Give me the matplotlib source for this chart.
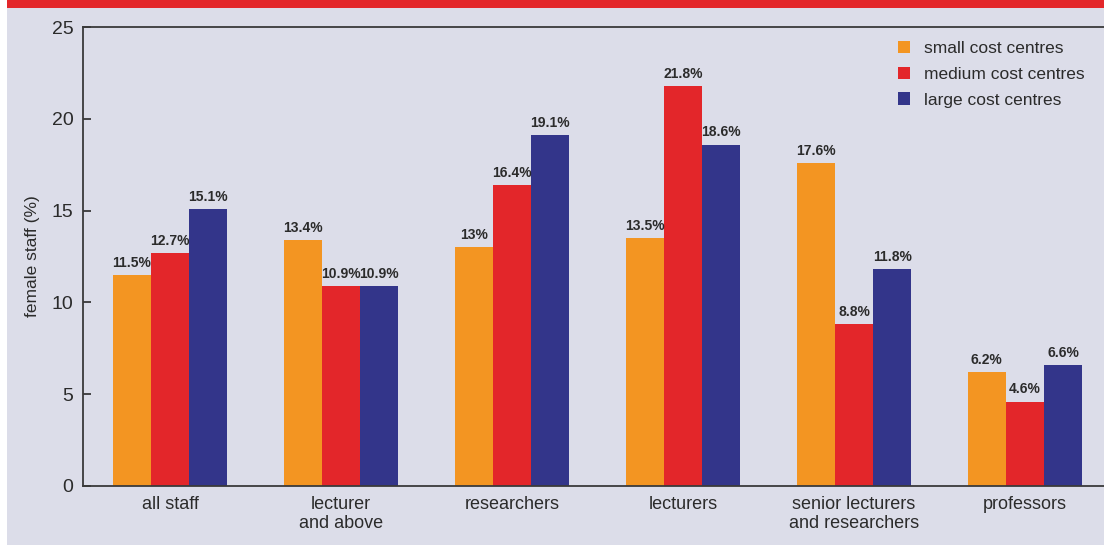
import numpy as np
import matplotlib.pyplot as plt
from matplotlib.patches import Rectangle

plt.rcParams['font.family'] = ['Liberation Sans', 'DejaVu Sans']

categories = ["all staff", "lecturer\nand above", "researchers", "lecturers",
              "senior lecturers\nand researchers", "professors"]
small = [11.5, 13.4, 13, 13.5, 17.6, 6.2]
medium = [12.7, 10.9, 16.4, 21.8, 8.8, 4.6]
large = [15.1, 10.9, 19.1, 18.6, 11.8, 6.6]
series_names = ["small cost centres", "medium cost centres", "large cost centres"]

bg = "#dcdde9"
colors = ["#f39522", "#e3262a", "#33358a"]
dark = "#2b2b2b"

W, H = 1104, 545
fig = plt.figure(figsize=(W / 100, H / 100), dpi=100, facecolor="white")

# background panel and red strip on top
fig.patches.append(Rectangle((7 / W, 0), 1 - 7 / W, 1 - 8 / H, transform=fig.transFigure,
                             facecolor=bg, edgecolor="none", zorder=-10))
fig.patches.append(Rectangle((7 / W, 1 - 8 / H), 1 - 7 / W, 8 / H, transform=fig.transFigure,
                             facecolor="#e3262a", edgecolor="none", zorder=-10))

ax = fig.add_axes([83 / W, 59 / H, (W - 83) / W, 459 / H])
ax.patch.set_alpha(0)

x = np.arange(len(categories))
w = 0.224
handles = []
for i, (vals, c, name) in enumerate(zip([small, medium, large], colors, series_names)):
    bars = ax.bar(x + (i - 1) * w, vals, width=w, color=c, label=name, zorder=2)
    handles.append(bars)
    for xi, v in zip(x + (i - 1) * w, vals):
        ax.text(xi, v + 0.28, f"{v:g}%", ha="center", va="bottom",
                fontsize=10, fontweight="bold", color=dark)

ax.set_xlim(-0.509, 5.462)
ax.set_ylim(0, 25)
ax.set_yticks([0, 5, 10, 15, 20, 25])
ax.set_xticks(x)
ax.set_xticklabels(categories, fontsize=13, color=dark, linespacing=1.2)
ax.tick_params(axis="x", length=0, pad=7)
ax.tick_params(axis="y", direction="in", length=6, width=1.2, colors=dark,
               labelsize=14, pad=7)

for s in ["left", "top", "bottom"]:
    ax.spines[s].set_color("#3a3a3a")
    ax.spines[s].set_linewidth(1.3)
ax.spines["right"].set_visible(False)

ax.set_ylabel("female staff (%)", fontsize=12.5, color=dark, labelpad=8)

ax.legend(handles=handles, loc="upper left", bbox_to_anchor=(882 / W, 1 - 25 / H),
          bbox_transform=fig.transFigure, frameon=False, fontsize=12.5,
          handlelength=0.7, handleheight=0.7, handletextpad=0.8, labelspacing=0.62,
          labelcolor=dark)

fig.savefig("out.png", dpi=100, facecolor="white")
